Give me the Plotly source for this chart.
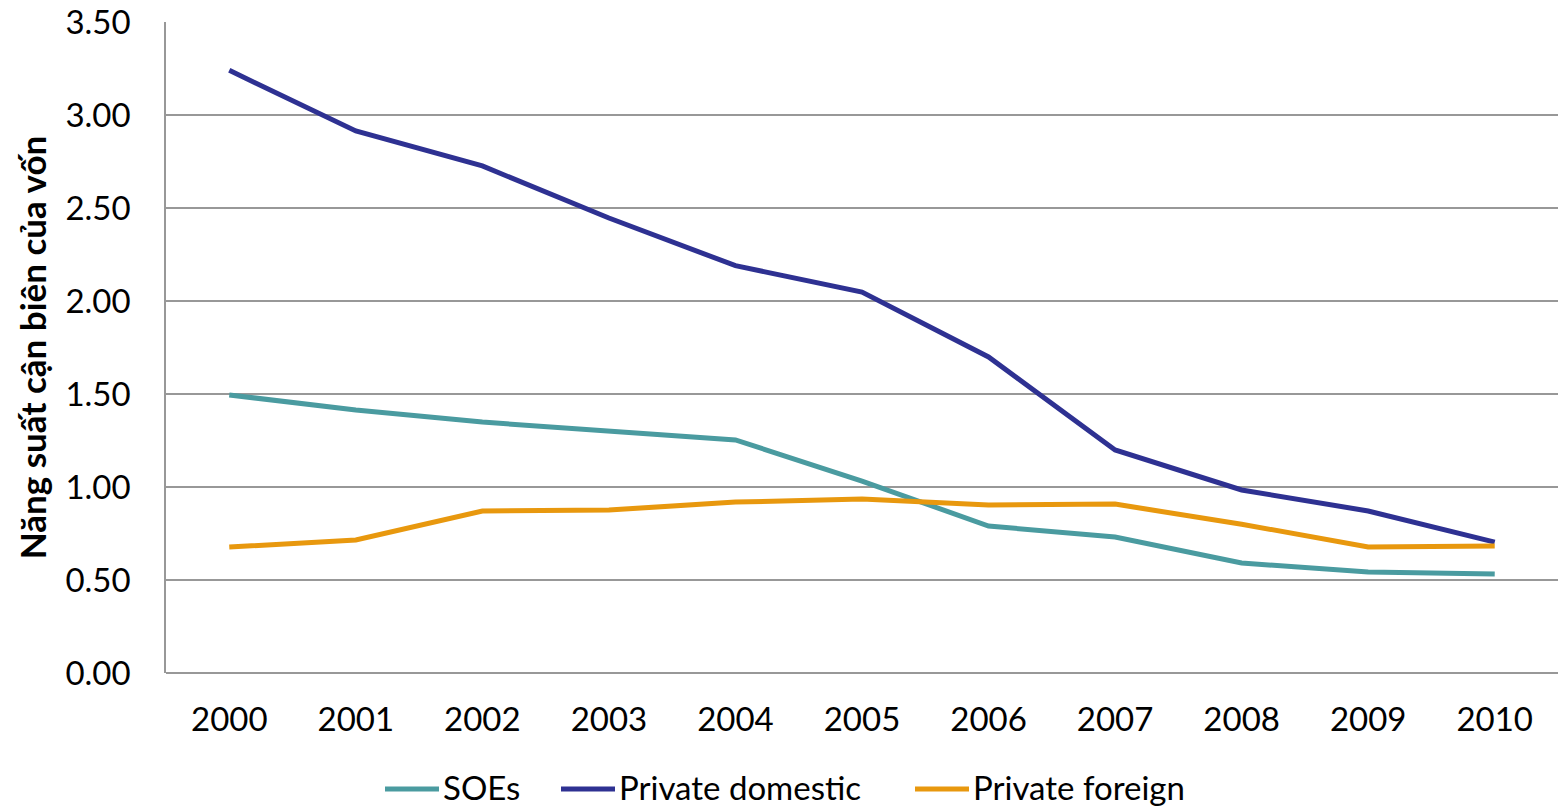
import plotly.graph_objects as go

years = ["2000", "2001", "2002", "2003", "2004", "2005", "2006", "2007", "2008", "2009", "2010"]
soes = [1.495, 1.414, 1.349, 1.30, 1.253, 1.032, 0.79, 0.731, 0.591, 0.543, 0.532]
private_domestic = [3.24, 2.914, 2.726, 2.446, 2.19, 2.048, 1.699, 1.199, 0.984, 0.871, 0.704]
private_foreign = [0.677, 0.715, 0.871, 0.876, 0.919, 0.935, 0.903, 0.908, 0.80, 0.677, 0.683]
y_ticks = [0, 0.5, 1.0, 1.5, 2.0, 2.5, 3.0, 3.5]

series = [
    ("SOEs", soes, "#4A9BA0"),
    ("Private domestic", private_domestic, "#2E3192"),
    ("Private foreign", private_foreign, "#E8980E"),
]

W, H = 1558, 808
M_L, M_R, M_T, M_B = 166, 0, 22, 135
plot_w = W - M_L - M_R
plot_h = H - M_T - M_B


def px_x(px):
    return (px - M_L) / plot_w


def px_y(py):
    return (H - M_B - py) / plot_h


fig = go.Figure()
for name, vals, color in series:
    fig.add_trace(go.Scatter(
        x=list(range(len(years))), y=vals, name=name, mode="lines",
        line=dict(color=color, width=5), showlegend=False,
    ))

# Legend drawn below the plot: a line sample followed by its label
legend_starts = [385, 561, 915]
sample_len = 54
legend_y = 787
shapes = []
annotations = []
for (name, _, color), x0 in zip(series, legend_starts):
    shapes.append(dict(
        type="line", xref="paper", yref="paper",
        x0=px_x(x0), x1=px_x(x0 + sample_len), y0=px_y(legend_y + 2), y1=px_y(legend_y + 2),
        line=dict(color=color, width=5),
    ))
    annotations.append(dict(
        xref="paper", yref="paper", x=px_x(x0 + sample_len + 2), y=px_y(legend_y),
        xanchor="left", yanchor="middle", text=name, showarrow=False,
        font=dict(size=33),
    ))

font_family = "Lato, 'Open Sans', sans-serif"
fig.update_layout(
    width=W, height=H,
    margin=dict(l=M_L, r=M_R, t=M_T, b=M_B, autoexpand=False),
    plot_bgcolor="white", paper_bgcolor="white",
    font=dict(family=font_family, size=33, color="#000000"),
    showlegend=False,
    shapes=shapes,
    annotations=annotations,
    xaxis=dict(
        tickmode="array", tickvals=list(range(len(years))), ticktext=years,
        range=[-0.5, len(years) - 0.5], showgrid=False,
        showline=False, zeroline=False, ticks="", ticklabelstandoff=24,
    ),
    yaxis=dict(
        range=[0, 3.5], tickvals=y_ticks, tickformat=".2f",
        showgrid=True, gridcolor="#989898", gridwidth=1.5,
        showline=True, linecolor="#989898", linewidth=1.5,
        zeroline=True, zerolinecolor="#989898", zerolinewidth=1.5,
        ticks="", ticklabelstandoff=27,
        title=dict(text="<b>Năng suất cận biên của vốn</b>", font=dict(size=35), standoff=8),
    ),
)

fig.write_html("out.html")
